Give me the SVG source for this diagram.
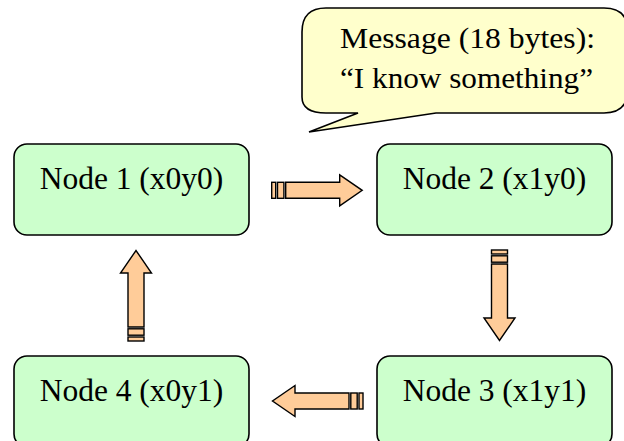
<svg xmlns="http://www.w3.org/2000/svg" width="624" height="441" viewBox="0 0 624 441">
  <style>
    .node rect { fill: #CCFFCC; stroke: #000; stroke-width: 1.6; }
    .label { font-family: "Liberation Serif", "Times New Roman", serif; font-size: 31.5px; fill: #000; text-anchor: middle; }
    .callout path { fill: #FFFFCC; stroke: #000; stroke-width: 1.6; stroke-linejoin: miter; }
    .msg { font-family: "Liberation Serif", "Times New Roman", serif; font-size: 30px; fill: #000; text-anchor: middle; }
    .arrow { fill: #FFCC99; stroke: #000; stroke-width: 1.4; stroke-linejoin: miter; }
  </style>
  <defs>
    <!-- striped block arrow, pointing right, tail at the origin -->
    <g id="striped-arrow" class="arrow">
      <rect x="0" y="-8" width="4" height="16"/>
      <rect x="5.8" y="-8" width="6.4" height="16"/>
      <path d="M14,-8 H68 V-15.5 L90.5,0 L68,15.5 V8 H14 Z"/>
    </g>
  </defs>

  <!-- speech bubble carrying the message -->
  <g id="message" class="callout">
    <path d="M326,8 H604 Q628,8 628,32 V89 Q628,113 604,113 H436 L309,132 L358,113 H326 Q302,113 302,97 V32 Q302,8 326,8 Z"/>
    <text class="msg" x="467.5" y="48" textLength="255" lengthAdjust="spacingAndGlyphs">Message (18 bytes):</text>
    <text class="msg" x="466.5" y="88" textLength="253" lengthAdjust="spacingAndGlyphs">“I know something”</text>
  </g>

  <g id="node1" class="node">
    <rect x="14" y="144" width="235" height="91" rx="13"/>
    <text class="label" x="131.5" y="189">Node 1 (x0y0)</text>
  </g>
  <g id="node2" class="node">
    <rect x="377" y="144" width="235" height="91" rx="13"/>
    <text class="label" x="494.5" y="189">Node 2 (x1y0)</text>
  </g>
  <g id="node3" class="node">
    <rect x="377" y="356" width="235" height="91" rx="13"/>
    <text class="label" x="494.5" y="401">Node 3 (x1y1)</text>
  </g>
  <g id="node4" class="node">
    <rect x="14" y="356" width="235" height="91" rx="13"/>
    <text class="label" x="131.5" y="401">Node 4 (x0y1)</text>
  </g>

  <!-- ring of connectors: 1 → 2 → 3 → 4 → 1 -->
  <g id="connectors">
    <use href="#striped-arrow" transform="translate(271.7,190.3)"/>
    <use href="#striped-arrow" transform="translate(499.5,250) rotate(90)"/>
    <use href="#striped-arrow" transform="translate(363,401) rotate(180)"/>
    <use href="#striped-arrow" transform="translate(136,341) rotate(-90)"/>
  </g>
</svg>
